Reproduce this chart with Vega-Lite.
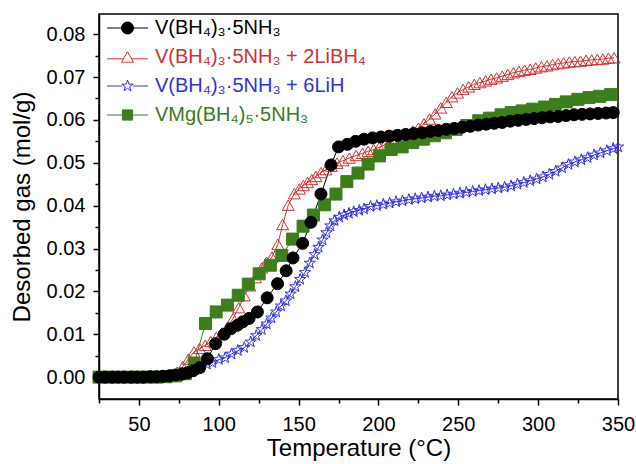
{
  "$schema": "https://vega.github.io/schema/vega-lite/v6.json",
  "width": 519,
  "height": 385,
  "autosize": {"type": "none"},
  "padding": {"left": 99, "top": 14, "right": 18, "bottom": 65},
  "background": "white",
  "config": {
    "font": "Liberation Sans",
    "view": {"stroke": "#000000", "strokeWidth": 1.5},
    "axis": {
      "labelFont": "Liberation Sans", "titleFont": "Liberation Sans",
      "labelFontSize": 20, "titleFontSize": 24, "titleFontWeight": "normal",
      "labelColor": "#000000", "titleColor": "#000000",
      "domainColor": "#000000", "tickColor": "#000000",
      "domainWidth": 1.5, "tickWidth": 1.5, "grid": false, "labelOverlap": false
    }
  },
  "datasets": {
    "series": [
      {"k": "a", "name": "V(BH₄)₃·5NH₃"},
      {"k": "b", "name": "V(BH₄)₃·5NH₃ + 2LiBH₄"},
      {"k": "c", "name": "V(BH₄)₃·5NH₃ + 6LiH"},
      {"k": "d", "name": "VMg(BH₄)₅·5NH₃"}
    ],
    "pts": [
      {"k":"c","t":25,"g":0},{"k":"c","t":29,"g":0},{"k":"c","t":33,"g":0},{"k":"c","t":37,"g":0},{"k":"c","t":41,"g":0},{"k":"c","t":45,"g":0},{"k":"c","t":49,"g":0},{"k":"c","t":53,"g":0},{"k":"c","t":57,"g":0.0001},{"k":"c","t":61,"g":0.0001},{"k":"c","t":65,"g":0.0002},{"k":"c","t":69,"g":0.0003},{"k":"c","t":73,"g":0.0005},{"k":"c","t":77,"g":0.0008},{"k":"c","t":81,"g":0.0012},{"k":"c","t":85,"g":0.0017},{"k":"c","t":89,"g":0.0024},{"k":"c","t":92.5,"g":0.003},{"k":"c","t":96,"g":0.0034},{"k":"c","t":100,"g":0.0041},{"k":"c","t":104,"g":0.0045},{"k":"c","t":108,"g":0.0054},{"k":"c","t":112,"g":0.0062},{"k":"c","t":116,"g":0.0069},{"k":"c","t":120,"g":0.0082},{"k":"c","t":123.5,"g":0.0097},{"k":"c","t":127,"g":0.0111},{"k":"c","t":130,"g":0.0124},{"k":"c","t":133,"g":0.0138},{"k":"c","t":136,"g":0.0152},{"k":"c","t":139,"g":0.0166},{"k":"c","t":142,"g":0.0178},{"k":"c","t":145,"g":0.0194},{"k":"c","t":148,"g":0.0211},{"k":"c","t":151,"g":0.0228},{"k":"c","t":154,"g":0.0244},{"k":"c","t":157,"g":0.0266},{"k":"c","t":160,"g":0.0286},{"k":"c","t":162.5,"g":0.0303},{"k":"c","t":165,"g":0.032},{"k":"c","t":167.5,"g":0.0337},{"k":"c","t":170,"g":0.0353},{"k":"c","t":172.5,"g":0.0365},{"k":"c","t":175.5,"g":0.0373},{"k":"c","t":178.5,"g":0.0378},{"k":"c","t":181.5,"g":0.0382},{"k":"c","t":184.5,"g":0.0386},{"k":"c","t":188,"g":0.0389},{"k":"c","t":191,"g":0.0392},{"k":"c","t":195,"g":0.0398},{"k":"c","t":199,"g":0.04},{"k":"c","t":203,"g":0.0403},{"k":"c","t":207,"g":0.0406},{"k":"c","t":211,"g":0.0409},{"k":"c","t":215,"g":0.0411},{"k":"c","t":219,"g":0.0414},{"k":"c","t":223,"g":0.0416},{"k":"c","t":227,"g":0.0418},{"k":"c","t":231,"g":0.042},{"k":"c","t":235,"g":0.0422},{"k":"c","t":239,"g":0.0423},{"k":"c","t":243,"g":0.0425},{"k":"c","t":247,"g":0.0427},{"k":"c","t":251,"g":0.0429},{"k":"c","t":255,"g":0.0431},{"k":"c","t":259,"g":0.0433},{"k":"c","t":263,"g":0.0435},{"k":"c","t":267,"g":0.0437},{"k":"c","t":271,"g":0.0439},{"k":"c","t":275,"g":0.0441},{"k":"c","t":279,"g":0.0443},{"k":"c","t":283,"g":0.0446},{"k":"c","t":287,"g":0.045},{"k":"c","t":291,"g":0.0454},{"k":"c","t":295,"g":0.0458},{"k":"c","t":299,"g":0.0462},{"k":"c","t":303,"g":0.0467},{"k":"c","t":307,"g":0.0473},{"k":"c","t":311,"g":0.048},{"k":"c","t":315,"g":0.0488},{"k":"c","t":319,"g":0.0496},{"k":"c","t":323,"g":0.0502},{"k":"c","t":327,"g":0.0507},{"k":"c","t":331,"g":0.0512},{"k":"c","t":335,"g":0.0518},{"k":"c","t":339,"g":0.0523},{"k":"c","t":343,"g":0.0528},{"k":"c","t":347,"g":0.0533},{"k":"c","t":350,"g":0.0537},

      {"k":"b","t":25,"g":0},{"k":"b","t":28.5,"g":0},{"k":"b","t":32,"g":0},{"k":"b","t":35.5,"g":0},{"k":"b","t":39,"g":0},{"k":"b","t":42.5,"g":0},{"k":"b","t":46,"g":0},{"k":"b","t":49.5,"g":0},{"k":"b","t":53,"g":0},{"k":"b","t":56.5,"g":0},{"k":"b","t":60,"g":0.0001},{"k":"b","t":63.5,"g":0.0002},{"k":"b","t":67,"g":0.0003},{"k":"b","t":70.5,"g":0.0006},{"k":"b","t":74,"g":0.0012},{"k":"b","t":77.5,"g":0.0025},{"k":"b","t":81,"g":0.0042},{"k":"b","t":84.5,"g":0.0059},{"k":"b","t":88,"g":0.0067},{"k":"b","t":91.5,"g":0.0074},{"k":"b","t":95,"g":0.0083},{"k":"b","t":98.5,"g":0.0093},{"k":"b","t":102,"g":0.0103},{"k":"b","t":105.5,"g":0.0117},{"k":"b","t":109,"g":0.0137},{"k":"b","t":112.5,"g":0.0162},{"k":"b","t":116,"g":0.019},{"k":"b","t":119.5,"g":0.0213},{"k":"b","t":123,"g":0.0232},{"k":"b","t":127,"g":0.0255},{"k":"b","t":130,"g":0.0268},{"k":"b","t":133.3,"g":0.028},{"k":"b","t":137,"g":0.031},{"k":"b","t":140,"g":0.0356},{"k":"b","t":143.5,"g":0.0401},{"k":"b","t":147.3,"g":0.0428},{"k":"b","t":150.5,"g":0.0439},{"k":"b","t":153,"g":0.0447},{"k":"b","t":155.6,"g":0.0454},{"k":"b","t":158.2,"g":0.0461},{"k":"b","t":160.8,"g":0.0468},{"k":"b","t":164,"g":0.0477},{"k":"b","t":167.1,"g":0.0484},{"k":"b","t":170.5,"g":0.0492},{"k":"b","t":174,"g":0.0499},{"k":"b","t":177.8,"g":0.0505},{"k":"b","t":181.7,"g":0.0511},{"k":"b","t":186,"g":0.0517},{"k":"b","t":190,"g":0.0522},{"k":"b","t":193.5,"g":0.0527},{"k":"b","t":197,"g":0.0531},{"k":"b","t":200.5,"g":0.0536},{"k":"b","t":204,"g":0.0542},{"k":"b","t":207.5,"g":0.0548},{"k":"b","t":211,"g":0.0555},{"k":"b","t":214.5,"g":0.0561},{"k":"b","t":218,"g":0.0567},{"k":"b","t":221.5,"g":0.0574},{"k":"b","t":225,"g":0.0581},{"k":"b","t":228.5,"g":0.0591},{"k":"b","t":232,"g":0.0602},{"k":"b","t":235.5,"g":0.0614},{"k":"b","t":239,"g":0.0628},{"k":"b","t":242.5,"g":0.0641},{"k":"b","t":246,"g":0.0654},{"k":"b","t":249.5,"g":0.0663},{"k":"b","t":253,"g":0.0671},{"k":"b","t":256.5,"g":0.0677},{"k":"b","t":260,"g":0.0683},{"k":"b","t":263.5,"g":0.0687},{"k":"b","t":267,"g":0.0691},{"k":"b","t":270.5,"g":0.0695},{"k":"b","t":274,"g":0.0698},{"k":"b","t":277.5,"g":0.0702},{"k":"b","t":281,"g":0.0706},{"k":"b","t":284.5,"g":0.071},{"k":"b","t":288,"g":0.0713},{"k":"b","t":291.5,"g":0.0716},{"k":"b","t":295,"g":0.0718},{"k":"b","t":298.5,"g":0.0721},{"k":"b","t":302,"g":0.0724},{"k":"b","t":305.5,"g":0.0726},{"k":"b","t":309,"g":0.0729},{"k":"b","t":312.5,"g":0.0731},{"k":"b","t":316,"g":0.0733},{"k":"b","t":319.5,"g":0.0735},{"k":"b","t":323,"g":0.0736},{"k":"b","t":326.5,"g":0.0737},{"k":"b","t":330,"g":0.0739},{"k":"b","t":333.5,"g":0.074},{"k":"b","t":337,"g":0.0741},{"k":"b","t":340.5,"g":0.0742},{"k":"b","t":344,"g":0.0744},{"k":"b","t":347.5,"g":0.0745},

      {"k":"d","t":25,"g":0},{"k":"d","t":31,"g":0},{"k":"d","t":37,"g":0},{"k":"d","t":43,"g":0},{"k":"d","t":49,"g":0},{"k":"d","t":55,"g":0},{"k":"d","t":61,"g":0},{"k":"d","t":67,"g":0.0001},{"k":"d","t":73,"g":0.0003},{"k":"d","t":79,"g":0.0008},{"k":"d","t":84.6,"g":0.0032},{"k":"d","t":91.7,"g":0.0125},{"k":"d","t":98.4,"g":0.0152},{"k":"d","t":105.4,"g":0.0168},{"k":"d","t":112.2,"g":0.0191},{"k":"d","t":118.5,"g":0.0217},{"k":"d","t":125.3,"g":0.0241},{"k":"d","t":132.3,"g":0.0261},{"k":"d","t":139.5,"g":0.0284},{"k":"d","t":146.2,"g":0.0322},{"k":"d","t":152.8,"g":0.0352},{"k":"d","t":159.3,"g":0.0378},{"k":"d","t":166.3,"g":0.0402},{"k":"d","t":173.4,"g":0.0427},{"k":"d","t":180.2,"g":0.0456},{"k":"d","t":187.2,"g":0.0476},{"k":"d","t":193.5,"g":0.0497},{"k":"d","t":200.6,"g":0.0516},{"k":"d","t":207.9,"g":0.0531},{"k":"d","t":214.8,"g":0.0537},{"k":"d","t":221.4,"g":0.0547},{"k":"d","t":228.1,"g":0.0555},{"k":"d","t":235,"g":0.0563},{"k":"d","t":241.9,"g":0.057},{"k":"d","t":248.6,"g":0.0578},{"k":"d","t":255.3,"g":0.0587},{"k":"d","t":262.8,"g":0.0598},{"k":"d","t":269.5,"g":0.0604},{"k":"d","t":276.8,"g":0.0612},{"k":"d","t":283.1,"g":0.0617},{"k":"d","t":290,"g":0.0621},{"k":"d","t":296.6,"g":0.0625},{"k":"d","t":304,"g":0.063},{"k":"d","t":310.9,"g":0.0636},{"k":"d","t":317.6,"g":0.0642},{"k":"d","t":324.9,"g":0.0648},{"k":"d","t":331.8,"g":0.0652},{"k":"d","t":338.5,"g":0.0655},{"k":"d","t":345.4,"g":0.0659},

      {"k":"a","t":25,"g":0},{"k":"a","t":29,"g":0},{"k":"a","t":33,"g":0},{"k":"a","t":37,"g":0},{"k":"a","t":41,"g":0},{"k":"a","t":45,"g":0},{"k":"a","t":49,"g":0},{"k":"a","t":53,"g":0},{"k":"a","t":57,"g":0.0001},{"k":"a","t":61,"g":0.0001},{"k":"a","t":65,"g":0.0002},{"k":"a","t":69,"g":0.0003},{"k":"a","t":73,"g":0.0005},{"k":"a","t":77,"g":0.0007},{"k":"a","t":80.5,"g":0.001},{"k":"a","t":84,"g":0.0015},{"k":"a","t":88,"g":0.0022},{"k":"a","t":92.9,"g":0.0043},{"k":"a","t":98,"g":0.0078},{"k":"a","t":103.4,"g":0.01},{"k":"a","t":107.6,"g":0.0113},{"k":"a","t":111.7,"g":0.0121},{"k":"a","t":115,"g":0.0129},{"k":"a","t":119,"g":0.0137},{"k":"a","t":124.2,"g":0.0152},{"k":"a","t":130.3,"g":0.0185},{"k":"a","t":136.8,"g":0.0218},{"k":"a","t":142.2,"g":0.0248},{"k":"a","t":146.5,"g":0.0278},{"k":"a","t":152.5,"g":0.0312},{"k":"a","t":157.7,"g":0.0361},{"k":"a","t":164,"g":0.0427},{"k":"a","t":170.3,"g":0.0495},{"k":"a","t":175,"g":0.0537},{"k":"a","t":180.5,"g":0.0543},{"k":"a","t":185.7,"g":0.055},{"k":"a","t":191,"g":0.0555},{"k":"a","t":196.3,"g":0.0558},{"k":"a","t":201.5,"g":0.056},{"k":"a","t":206.7,"g":0.0562},{"k":"a","t":211.9,"g":0.0564},{"k":"a","t":217,"g":0.0566},{"k":"a","t":222,"g":0.0568},{"k":"a","t":227.5,"g":0.057},{"k":"a","t":232.5,"g":0.0573},{"k":"a","t":237.5,"g":0.0575},{"k":"a","t":242.5,"g":0.0578},{"k":"a","t":247.5,"g":0.058},{"k":"a","t":252.5,"g":0.0583},{"k":"a","t":257.5,"g":0.0585},{"k":"a","t":262.5,"g":0.0588},{"k":"a","t":267.5,"g":0.059},{"k":"a","t":272.5,"g":0.0592},{"k":"a","t":277.5,"g":0.0594},{"k":"a","t":282.5,"g":0.0597},{"k":"a","t":287.5,"g":0.0599},{"k":"a","t":292.5,"g":0.0601},{"k":"a","t":297.5,"g":0.0603},{"k":"a","t":302.5,"g":0.0605},{"k":"a","t":307.5,"g":0.0607},{"k":"a","t":312.5,"g":0.0608},{"k":"a","t":317.5,"g":0.061},{"k":"a","t":322.5,"g":0.0612},{"k":"a","t":327.5,"g":0.0613},{"k":"a","t":332.5,"g":0.0614},{"k":"a","t":337.5,"g":0.0615},{"k":"a","t":342.5,"g":0.0616},{"k":"a","t":347,"g":0.0617}
    ]
  },
  "data": {"name": "pts"},
  "transform": [
    {"lookup": "k", "from": {"data": {"name": "series"}, "key": "k", "fields": ["name"]}}
  ],
  "encoding": {
    "x": {
      "field": "t", "type": "quantitative",
      "scale": {"domain": [25, 350], "nice": false, "zero": false},
      "axis": {
        "title": "Temperature (°C)",
        "values": [25, 50, 75, 100, 125, 150, 175, 200, 225, 250, 275, 300, 325, 350],
        "labelExpr": "datum.value % 50 === 0 ? datum.label : ''",
        "tickSize": {"condition": {"test": "datum.value % 50 === 0", "value": 6}, "value": 4},
        "labelFlush": false, "labelPadding": 9, "titlePadding": 2
      }
    },
    "y": {
      "field": "g", "type": "quantitative",
      "scale": {"domain": [-0.0051, 0.0847], "nice": false, "zero": false},
      "axis": {
        "title": "Desorbed gas (mol/g)",
        "values": [0, 0.005, 0.01, 0.015, 0.02, 0.025, 0.03, 0.035, 0.04, 0.045, 0.05, 0.055, 0.06, 0.065, 0.07, 0.075, 0.08],
        "labelExpr": "round(datum.value*1000) % 10 === 0 ? format(datum.value, '.2f') : ''",
        "tickSize": {"condition": {"test": "round(datum.value*1000) % 10 === 0", "value": 6}, "value": 4},
        "labelFlush": false, "labelPadding": 8, "titlePadding": 12
      }
    }
  },
  "layer": [
    {
      "mark": {"type": "line", "strokeWidth": 1},
      "encoding": {
        "color": {
          "field": "k", "type": "nominal",
          "scale": {"domain": ["a", "b", "c", "d"], "range": ["#000000", "#cc3333", "#3333dd", "#3c7d1c"]},
          "legend": null
        }
      }
    },
    {
      "mark": {"type": "point", "opacity": 1, "strokeWidth": 1},
      "encoding": {
        "stroke": {
          "field": "name", "type": "nominal",
          "scale": {
            "domain": ["V(BH₄)₃·5NH₃", "V(BH₄)₃·5NH₃ + 2LiBH₄", "V(BH₄)₃·5NH₃ + 6LiH", "VMg(BH₄)₅·5NH₃"],
            "range": ["#000000", "#cc3333", "#3333dd", "#3c7d1c"]
          },
          "legend": {
            "orient": "none", "legendX": 18.5, "legendY": 4,
            "title": null,
            "labelFont": "Liberation Sans", "labelFontSize": 20, "labelLimit": 0,
            "labelColor": {"expr": "scale('stroke', datum.value)"},
            "symbolSize": 144, "symbolStrokeWidth": 1,
            "rowPadding": 9, "labelOffset": 17.5,
            "symbolType": {"expr": "['M-3.4,0H-1M1,0H3.4M1,0A1,1,0,1,1,-1,0A1,1,0,1,1,1,0Z','M-3.4,0.3H-0.7M0.7,0.3H3.4M0,-0.866L1,0.866L-1,0.866Z','M-3.4,0H-0.95M0.95,0H3.4M0,-1L0.225,-0.309L0.951,-0.309L0.363,0.118L0.588,0.809L0,0.382L-0.588,0.809L-0.363,0.118L-0.951,-0.309L-0.225,-0.309Z','M-3.4,0H-0.85M0.85,0H3.4M-0.85,-0.85H0.85V0.85H-0.85Z'][indexof(domain('stroke'), datum.value)]"},
            "symbolFillColor": {"expr": "['#000000','transparent','transparent','#3c7d1c'][indexof(domain('stroke'), datum.value)]"}
          }
        },
        "fill": {
          "field": "k", "type": "nominal",
          "scale": {"domain": ["a", "b", "c", "d"], "range": ["#000000", "transparent", "transparent", "#3c7d1c"]},
          "legend": null
        },
        "shape": {
          "field": "k", "type": "nominal",
          "scale": {
            "domain": ["a", "b", "c", "d"],
            "range": ["circle", "triangle-up", "M0,-1L0.225,-0.309L0.951,-0.309L0.363,0.118L0.588,0.809L0,0.382L-0.588,0.809L-0.363,0.118L-0.951,-0.309L-0.225,-0.309Z", "square"]
          },
          "legend": null
        },
        "size": {
          "field": "k", "type": "nominal",
          "scale": {"domain": ["a", "b", "c", "d"], "range": [144, 144, 121, 100]},
          "legend": null
        }
      }
    }
  ]
}
